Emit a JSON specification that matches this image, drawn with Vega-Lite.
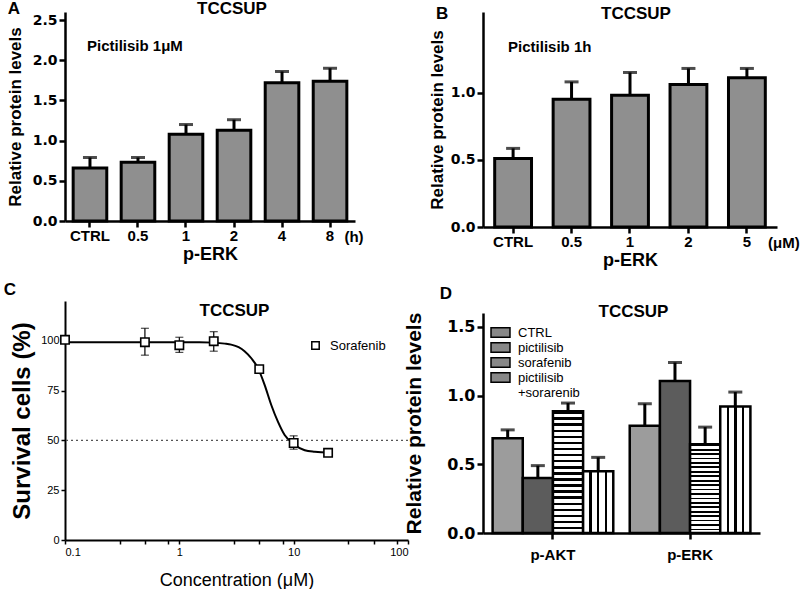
{
  "$schema": "https://vega.github.io/schema/vega-lite/v6.json",
  "background": "white",
  "padding": {"left": 3, "top": 0, "right": 0, "bottom": 0},
  "config": {
    "view": {"stroke": null},
    "font": "Liberation Sans",
    "title": {"font": "Liberation Sans", "fontSize": 17, "fontWeight": "bold", "color": "black", "anchor": "middle"},
    "axis": {"grid": false, "domainColor": "black", "tickColor": "black", "labelColor": "black", "titleColor": "black", "domainWidth": 2.5, "tickWidth": 2.5, "tickSize": 6, "labelFont": "DejaVu Sans", "labelFontWeight": "bold", "labelFontSize": 14, "titleFont": "Liberation Sans", "titleFontWeight": "bold", "titleFontSize": 17},
    "legend": {"labelFont": "Liberation Sans", "labelColor": "black", "padding": 0}
  },
  "resolve": {"scale": {"fill": "independent", "shape": "independent", "stroke": "independent"}, "legend": {"fill": "independent", "shape": "independent", "stroke": "independent"}},
  "spacing": -6,
  "bounds": "full",
  "hconcat": [
    {
      "spacing": 80,
      "bounds": "flush",
      "resolve": {"scale": {"fill": "independent", "shape": "independent", "stroke": "independent"}, "legend": {"fill": "independent", "shape": "independent", "stroke": "independent"}},
      "vconcat": [
        {
          "width": 290, "height": 209,
          "title": {"text": "TCCSUP", "offset": -18, "dx": 22},
          "data": {"values": [
            {"time": "CTRL", "value": 0.66, "err": 0.79},
            {"time": "0.5", "value": 0.73, "err": 0.79},
            {"time": "1", "value": 1.08, "err": 1.2},
            {"time": "2", "value": 1.13, "err": 1.26},
            {"time": "4", "value": 1.72, "err": 1.86},
            {"time": "8", "value": 1.74, "err": 1.9}
          ]},
          "layer": [
            {
              "mark": {"type": "bar", "fill": "#8f8f8f", "stroke": "black", "strokeWidth": 3},
              "encoding": {
                "x": {"field": "time", "type": "nominal", "sort": null, "scale": {"paddingInner": 0.3, "paddingOuter": 0.17}, "axis": {"title": "p-ERK", "labelAngle": 0, "labelFont": "Liberation Sans", "labelFontSize": 15, "labelPadding": 1, "titleFontSize": 18, "titlePadding": 2}},
                "y": {"field": "value", "type": "quantitative", "scale": {"domain": [0, 2.5]}, "axis": {"title": "Relative protein levels", "values": [0, 0.5, 1, 1.5, 2, 2.5], "format": ".1f", "titlePadding": 8}}
              }
            },
            {
              "mark": {"type": "rule", "color": "black", "strokeWidth": 3},
              "encoding": {"x": {"field": "time", "type": "nominal", "sort": null}, "y": {"field": "value", "type": "quantitative"}, "y2": {"field": "err"}}
            },
            {
              "mark": {"type": "tick", "color": "black", "thickness": 3, "size": 14},
              "encoding": {"x": {"field": "time", "type": "nominal", "sort": null}, "y": {"field": "err", "type": "quantitative"}}
            },
            {
              "data": {"values": [{}]},
              "mark": {"type": "text", "text": "Pictilisib 1μM", "align": "left", "baseline": "middle", "dx": -3, "fontSize": 15, "fontWeight": "bold", "color": "black"},
              "encoding": {"x": {"datum": "CTRL", "type": "nominal"}, "y": {"datum": 2.18, "type": "quantitative"}}
            },
            {
              "data": {"values": [{}]},
              "mark": {"type": "text", "text": "(h)", "align": "center", "baseline": "middle", "dx": 24, "dy": 16, "fontSize": 15, "fontWeight": "bold", "color": "black"},
              "encoding": {"x": {"datum": "8", "type": "nominal"}, "y": {"datum": 0, "type": "quantitative"}}
            },
            {
              "data": {"values": [{}]},
              "mark": {"type": "text", "text": "A", "align": "center", "baseline": "middle", "dx": -76, "dy": -11, "fontSize": 17, "fontWeight": "bold", "color": "black"},
              "encoding": {"x": {"datum": "CTRL", "type": "nominal"}, "y": {"datum": 2.5, "type": "quantitative"}}
            }
          ]
        },
        {
          "width": 343, "height": 239,
          "title": {"text": "TCCSUP", "offset": -39, "dx": -2},
          "layer": [
            {
              "data": {"values": [{}]},
              "mark": {"type": "rule", "color": "#555", "strokeWidth": 1.2, "strokeDash": [2, 3]},
              "encoding": {"y": {"datum": 50, "type": "quantitative"}}
            },
            {
              "data": {"values": [
                {"conc": 0.1, "pct": 99.3}, {"conc": 0.5, "pct": 99.3}, {"conc": 1, "pct": 99.3}, {"conc": 1.5, "pct": 99.3},
                {"conc": 2, "pct": 99.1}, {"conc": 2.5, "pct": 98.6}, {"conc": 2.84, "pct": 98.1}, {"conc": 3.3, "pct": 96.8},
                {"conc": 3.72, "pct": 94.8}, {"conc": 4.3, "pct": 91}, {"conc": 4.86, "pct": 86.4}, {"conc": 5.57, "pct": 77.9},
                {"conc": 6.37, "pct": 67.8}, {"conc": 7.28, "pct": 59.4}, {"conc": 8.34, "pct": 52.7}, {"conc": 9.86, "pct": 48.5},
                {"conc": 12.5, "pct": 45.1}, {"conc": 15.3, "pct": 44.3}, {"conc": 19.4, "pct": 43.9}, {"conc": 20, "pct": 43.9}
              ]},
              "mark": {"type": "line", "color": "black", "strokeWidth": 2, "interpolate": "monotone"},
              "encoding": {
                "x": {"field": "conc", "type": "quantitative", "scale": {"type": "log", "domain": [0.1, 100]}, "axis": {"title": "Concentration (μM)", "values": [0.1, 0.3, 0.5, 0.8, 1, 3, 5, 8, 10, 30, 50, 80, 100], "format": "~g", "labelExpr": "datum.value == 0.1 || datum.value == 1 || datum.value == 10 || datum.value == 100 ? datum.label : ''", "labelFont": "Liberation Sans", "labelFontWeight": "normal", "labelFontSize": 11, "labelOverlap": false, "tickSize": 4, "tickWidth": 1.5, "domainWidth": 2, "titleFontWeight": "normal", "titleFontSize": 18, "titlePadding": 14}},
                "y": {"field": "pct", "type": "quantitative", "scale": {"domain": [0, 120]}, "axis": {"title": "Survival cells (%)", "values": [0, 25, 50, 75, 100], "labelFont": "Liberation Sans", "labelFontWeight": "normal", "labelFontSize": 11, "tickSize": 4, "tickWidth": 1.5, "domainWidth": 2, "titleFontSize": 24, "titlePadding": 6}}
              }
            },
            {
              "data": {"name": "pts"},
              "layer": [
                {
                  "mark": {"type": "rule", "color": "black", "strokeWidth": 1.2},
                  "encoding": {"x": {"field": "conc", "type": "quantitative"}, "y": {"field": "lo", "type": "quantitative"}, "y2": {"field": "hi"}}
                },
                {
                  "mark": {"type": "tick", "color": "black", "thickness": 1.2, "size": 8, "orient": "horizontal"},
                  "encoding": {"x": {"field": "conc", "type": "quantitative"}, "y": {"field": "hi", "type": "quantitative"}}
                },
                {
                  "mark": {"type": "tick", "color": "black", "thickness": 1.2, "size": 8, "orient": "horizontal"},
                  "encoding": {"x": {"field": "conc", "type": "quantitative"}, "y": {"field": "lo", "type": "quantitative"}}
                },
                {
                  "mark": {"type": "point", "filled": true, "fill": "white", "stroke": "black", "strokeWidth": 1.6, "size": 70, "opacity": 1},
                  "encoding": {
                    "x": {"field": "conc", "type": "quantitative"},
                    "y": {"field": "pct", "type": "quantitative"},
                    "shape": {"field": "drug", "type": "nominal", "scale": {"range": ["square"]}, "legend": {"orient": "none", "legendX": 244, "legendY": 38, "title": null, "labelFontSize": 13, "symbolSize": 55, "labelOffset": 8,
                      "encode": {"symbols": {"stroke": {"value": "black"}, "fill": {"value": "white"}, "strokeWidth": {"value": 1.5}, "opacity": {"value": 1}}}}}
                  }
                }
              ]
            },
            {
              "data": {"values": [{}]},
              "mark": {"type": "text", "text": "C", "align": "center", "baseline": "middle", "dx": -55, "dy": -11, "fontSize": 17, "fontWeight": "bold", "color": "black"},
              "encoding": {"x": {"datum": 0.1, "type": "quantitative"}, "y": {"datum": 120, "type": "quantitative"}}
            }
          ]
        }
      ]
    },
    {
      "spacing": 86,
      "bounds": "flush",
      "resolve": {"scale": {"fill": "independent", "shape": "independent", "stroke": "independent"}, "legend": {"fill": "independent", "shape": "independent", "stroke": "independent"}},
      "vconcat": [
        {
          "width": 294, "height": 215,
          "title": {"text": "TCCSUP", "offset": -18, "dx": 6},
          "data": {"values": [
            {"conc": "CTRL", "value": 0.51, "err": 0.585},
            {"conc": "0.5", "value": 0.95, "err": 1.08},
            {"conc": "1", "value": 0.98, "err": 1.15},
            {"conc": "2", "value": 1.06, "err": 1.18},
            {"conc": "5", "value": 1.11, "err": 1.18}
          ]},
          "layer": [
            {
              "mark": {"type": "bar", "fill": "#8f8f8f", "stroke": "black", "strokeWidth": 3},
              "encoding": {
                "x": {"field": "conc", "type": "nominal", "sort": null, "scale": {"paddingInner": 0.37, "paddingOuter": 0.2}, "axis": {"title": "p-ERK", "labelAngle": 0, "labelFont": "Liberation Sans", "labelFontSize": 15, "labelPadding": 1, "titleFontSize": 18, "titlePadding": 2}},
                "y": {"field": "value", "type": "quantitative", "scale": {"domain": [0, 1.5]}, "axis": {"title": "Relative protein levels", "values": [0, 0.5, 1], "format": ".1f", "titlePadding": 4}}
              }
            },
            {
              "mark": {"type": "rule", "color": "black", "strokeWidth": 3},
              "encoding": {"x": {"field": "conc", "type": "nominal", "sort": null}, "y": {"field": "value", "type": "quantitative"}, "y2": {"field": "err"}}
            },
            {
              "mark": {"type": "tick", "color": "black", "thickness": 3, "size": 14},
              "encoding": {"x": {"field": "conc", "type": "nominal", "sort": null}, "y": {"field": "err", "type": "quantitative"}}
            },
            {
              "data": {"values": [{}]},
              "mark": {"type": "text", "text": "Pictilisib 1h", "align": "left", "baseline": "middle", "dx": -5, "fontSize": 15, "fontWeight": "bold", "color": "black"},
              "encoding": {"x": {"datum": "CTRL", "type": "nominal"}, "y": {"datum": 1.34, "type": "quantitative"}}
            },
            {
              "data": {"values": [{}]},
              "mark": {"type": "text", "text": "(μM)", "align": "center", "baseline": "middle", "dx": 37, "dy": 16, "fontSize": 15, "fontWeight": "bold", "color": "black"},
              "encoding": {"x": {"datum": "5", "type": "nominal"}, "y": {"datum": 0, "type": "quantitative"}}
            },
            {
              "data": {"values": [{}]},
              "mark": {"type": "text", "text": "B", "align": "center", "baseline": "middle", "dx": -71, "dy": -11, "fontSize": 17, "fontWeight": "bold", "color": "black"},
              "encoding": {"x": {"datum": "CTRL", "type": "nominal"}, "y": {"datum": 1.5, "type": "quantitative"}}
            }
          ]
        },
        {
          "width": 277, "height": 220,
          "title": {"text": "TCCSUP", "offset": -36, "dx": 12},
          "data": {"values": [
            {"target": "p-AKT", "treatment": "CTRL", "value": 0.69, "err": 0.75},
            {"target": "p-AKT", "treatment": "pictilisib", "value": 0.4, "err": 0.49},
            {"target": "p-AKT", "treatment": "sorafenib", "value": 0.885, "err": 0.945},
            {"target": "p-AKT", "treatment": "pictilisib +sorarenib", "value": 0.45, "err": 0.55},
            {"target": "p-ERK", "treatment": "CTRL", "value": 0.78, "err": 0.94},
            {"target": "p-ERK", "treatment": "pictilisib", "value": 1.105, "err": 1.24},
            {"target": "p-ERK", "treatment": "sorafenib", "value": 0.645, "err": 0.77},
            {"target": "p-ERK", "treatment": "pictilisib +sorarenib", "value": 0.92, "err": 1.025}
          ]},
          "layer": [
            {
              "mark": {"type": "bar", "strokeWidth": 2.5},
              "encoding": {
                "x": {"field": "target", "type": "nominal", "sort": null, "scale": {"paddingInner": 0.12, "paddingOuter": 0.07}, "axis": {"title": null, "labelAngle": 0, "labelFont": "Liberation Sans", "labelFontSize": 15, "labelPadding": 8}},
                "xOffset": {"field": "treatment", "type": "nominal", "sort": ["CTRL", "pictilisib", "sorafenib", "pictilisib +sorarenib"], "scale": {"paddingInner": 0, "paddingOuter": 0}},
                "y": {"field": "value", "type": "quantitative", "scale": {"domain": [0, 1.5]}, "axis": {"title": "Relative protein levels", "values": [0, 0.5, 1, 1.5], "format": ".1f", "labelFontSize": 16, "titleFontSize": 21, "titlePadding": 22}},
                "stroke": {
                  "field": "treatment", "type": "nominal",
                  "sort": ["CTRL", "pictilisib", "sorafenib", "pictilisib +sorarenib"],
                  "scale": {"domain": ["CTRL", "pictilisib", "sorafenib", "pictilisib +sorarenib"], "range": ["black", "black", "black", "black"]},
                  "legend": {
                    "orient": "none", "legendX": 11, "legendY": 13, "title": null,
                    "symbolType": "M-2,-1L2,-1L2,1L-2,1Z", "symbolSize": 90, "symbolStrokeWidth": 1.5,
                    "labelFontSize": 13, "labelOffset": 11, "rowPadding": -2, "labelLineHeight": 13,
                    "labelExpr": "datum.label == 'pictilisib +sorarenib' ? ['pictilisib', '+sorarenib'] : datum.label",
                    "encode": {"symbols": {
                      "strokeWidth": {"value": 1.5},
                      "opacity": {"value": 1},
                      "fill": {"condition": [
                        {"test": "datum.value === 'CTRL'", "value": "#9c9c9c"},
                        {"test": "datum.value === 'pictilisib'", "value": "#5c5c5c"},
                        {"test": "datum.value === 'sorafenib'", "value": "#b4b4b4"}
                      ], "value": "#e2e2e2"}
                    }}
                  }
                },
                "fill": {
                  "condition": [
                    {"test": "datum.treatment === 'CTRL'", "value": "#9c9c9c"},
                    {"test": "datum.treatment === 'pictilisib'", "value": "#5c5c5c"},
                    {"test": "datum.treatment === 'sorafenib'", "value": {"gradient": "linear", "x1": 0, "y1": 0, "x2": 0, "y2": 1, "stops": [
                      {"offset": 0, "color": "#000"}, {"offset": 0.02, "color": "#000"}, {"offset": 0.02, "color": "#fff"}, {"offset": 0.05, "color": "#fff"},
                      {"offset": 0.05, "color": "#000"}, {"offset": 0.07, "color": "#000"}, {"offset": 0.07, "color": "#fff"}, {"offset": 0.1, "color": "#fff"},
                      {"offset": 0.1, "color": "#000"}, {"offset": 0.12, "color": "#000"}, {"offset": 0.12, "color": "#fff"}, {"offset": 0.15, "color": "#fff"},
                      {"offset": 0.15, "color": "#000"}, {"offset": 0.17, "color": "#000"}, {"offset": 0.17, "color": "#fff"}, {"offset": 0.2, "color": "#fff"},
                      {"offset": 0.2, "color": "#000"}, {"offset": 0.22, "color": "#000"}, {"offset": 0.22, "color": "#fff"}, {"offset": 0.25, "color": "#fff"},
                      {"offset": 0.25, "color": "#000"}, {"offset": 0.27, "color": "#000"}, {"offset": 0.27, "color": "#fff"}, {"offset": 0.3, "color": "#fff"},
                      {"offset": 0.3, "color": "#000"}, {"offset": 0.32, "color": "#000"}, {"offset": 0.32, "color": "#fff"}, {"offset": 0.35, "color": "#fff"},
                      {"offset": 0.35, "color": "#000"}, {"offset": 0.37, "color": "#000"}, {"offset": 0.37, "color": "#fff"}, {"offset": 0.4, "color": "#fff"},
                      {"offset": 0.4, "color": "#000"}, {"offset": 0.42, "color": "#000"}, {"offset": 0.42, "color": "#fff"}, {"offset": 0.45, "color": "#fff"},
                      {"offset": 0.45, "color": "#000"}, {"offset": 0.47, "color": "#000"}, {"offset": 0.47, "color": "#fff"}, {"offset": 0.5, "color": "#fff"},
                      {"offset": 0.5, "color": "#000"}, {"offset": 0.52, "color": "#000"}, {"offset": 0.52, "color": "#fff"}, {"offset": 0.55, "color": "#fff"},
                      {"offset": 0.55, "color": "#000"}, {"offset": 0.57, "color": "#000"}, {"offset": 0.57, "color": "#fff"}, {"offset": 0.6, "color": "#fff"},
                      {"offset": 0.6, "color": "#000"}, {"offset": 0.62, "color": "#000"}, {"offset": 0.62, "color": "#fff"}, {"offset": 0.65, "color": "#fff"},
                      {"offset": 0.65, "color": "#000"}, {"offset": 0.67, "color": "#000"}, {"offset": 0.67, "color": "#fff"}, {"offset": 0.7, "color": "#fff"},
                      {"offset": 0.7, "color": "#000"}, {"offset": 0.72, "color": "#000"}, {"offset": 0.72, "color": "#fff"}, {"offset": 0.75, "color": "#fff"},
                      {"offset": 0.75, "color": "#000"}, {"offset": 0.77, "color": "#000"}, {"offset": 0.77, "color": "#fff"}, {"offset": 0.8, "color": "#fff"},
                      {"offset": 0.8, "color": "#000"}, {"offset": 0.82, "color": "#000"}, {"offset": 0.82, "color": "#fff"}, {"offset": 0.85, "color": "#fff"},
                      {"offset": 0.85, "color": "#000"}, {"offset": 0.87, "color": "#000"}, {"offset": 0.87, "color": "#fff"}, {"offset": 0.9, "color": "#fff"},
                      {"offset": 0.9, "color": "#000"}, {"offset": 0.92, "color": "#000"}, {"offset": 0.92, "color": "#fff"}, {"offset": 0.95, "color": "#fff"},
                      {"offset": 0.95, "color": "#000"}, {"offset": 0.97, "color": "#000"}, {"offset": 0.97, "color": "#fff"}, {"offset": 1, "color": "#fff"}
                    ]}},
                    {"test": "datum.treatment === 'pictilisib +sorarenib'", "value": {"gradient": "linear", "x1": 0, "y1": 0, "x2": 1, "y2": 0, "stops": [
                      {"offset": 0, "color": "#fff"}, {"offset": 0.21, "color": "#fff"}, {"offset": 0.21, "color": "#000"}, {"offset": 0.29, "color": "#000"},
                      {"offset": 0.29, "color": "#fff"}, {"offset": 0.46, "color": "#fff"}, {"offset": 0.46, "color": "#000"}, {"offset": 0.54, "color": "#000"},
                      {"offset": 0.54, "color": "#fff"}, {"offset": 0.71, "color": "#fff"}, {"offset": 0.71, "color": "#000"}, {"offset": 0.79, "color": "#000"},
                      {"offset": 0.79, "color": "#fff"}, {"offset": 1, "color": "#fff"}
                    ]}}
                  ],
                  "value": "#888888"
                }
              }
            },
            {
              "mark": {"type": "rule", "color": "black", "strokeWidth": 3},
              "encoding": {
                "x": {"field": "target", "type": "nominal", "sort": null},
                "xOffset": {"field": "treatment", "type": "nominal", "sort": ["CTRL", "pictilisib", "sorafenib", "pictilisib +sorarenib"]},
                "y": {"field": "value", "type": "quantitative"}, "y2": {"field": "err"}
              }
            },
            {
              "mark": {"type": "tick", "color": "black", "thickness": 3, "size": 14},
              "encoding": {
                "x": {"field": "target", "type": "nominal", "sort": null},
                "xOffset": {"field": "treatment", "type": "nominal", "sort": ["CTRL", "pictilisib", "sorafenib", "pictilisib +sorarenib"]},
                "y": {"field": "err", "type": "quantitative"}
              }
            },
            {
              "data": {"values": [{}]},
              "mark": {"type": "text", "text": "D", "align": "center", "baseline": "middle", "dx": -107, "dy": -33, "fontSize": 17, "fontWeight": "bold", "color": "black"},
              "encoding": {"x": {"datum": "p-AKT", "type": "nominal"}, "y": {"datum": 1.5, "type": "quantitative"}}
            }
          ]
        }
      ]
    }
  ],
  "datasets": {
    "pts": [
      {"conc": 0.1, "pct": 100.5, "lo": 100.5, "hi": 100.5, "drug": "Sorafenib"},
      {"conc": 0.5, "pct": 99.3, "lo": 92.8, "hi": 106.3, "drug": "Sorafenib"},
      {"conc": 1, "pct": 97.8, "lo": 94.2, "hi": 101.8, "drug": "Sorafenib"},
      {"conc": 2, "pct": 99.8, "lo": 94.8, "hi": 104.6, "drug": "Sorafenib"},
      {"conc": 5, "pct": 85.8, "lo": 84.3, "hi": 87.3, "drug": "Sorafenib"},
      {"conc": 10, "pct": 48.7, "lo": 45.6, "hi": 52.3, "drug": "Sorafenib"},
      {"conc": 20, "pct": 43.8, "lo": 43.2, "hi": 44.4, "drug": "Sorafenib"}
    ]
  }
}
